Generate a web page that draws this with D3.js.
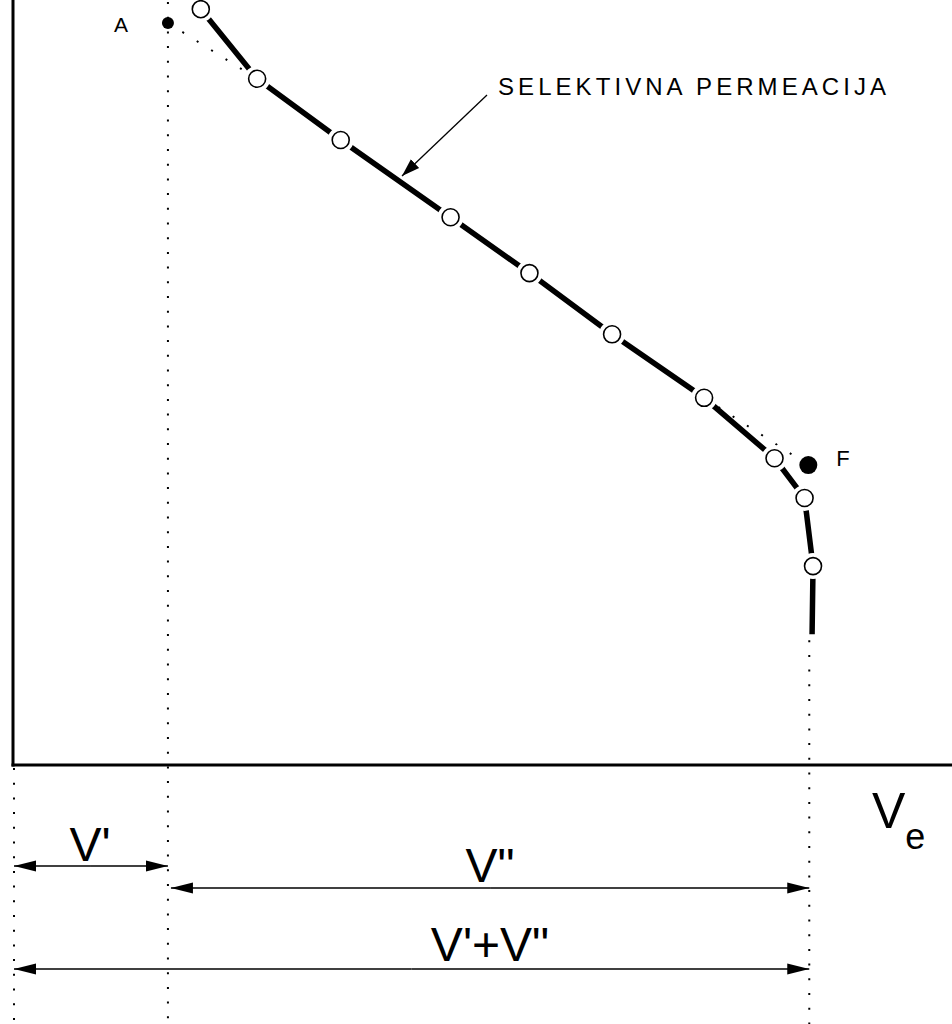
<!DOCTYPE html>
<html>
<head>
<script src="https://d3js.org/d3.v7.min.js"></script>
<style>
  body { margin: 0; background: #fff; }
  text { font-family: "Liberation Sans", Arial, sans-serif; fill: #000; }
</style>
</head>
<body>
<div id="chart"></div>
<script>
// elution curve (x: Ve units, y: concentration units)
var curveX = [2.00, 2.60, 3.49, 4.66, 5.50, 6.38, 7.36, 8.11, 8.43, 8.52];
var curveY = [9.88, 8.97, 8.17, 7.16, 6.43, 5.63, 4.80, 4.01, 3.49, 2.60];
var tailX = [8.51];
var tailY = [1.71];

// extrapolated corner points
var pointNames = ["A", "F"];
var pointX = [1.65, 8.47];
var pointY = [9.70, 3.92];

// volumes marked under the axis
var spanStart = [0, 1.65, 0];
var spanEnd = [1.65, 8.48, 8.48];
var spanLabels = ["V'", "V\"", "V'+V\""];
var curveLabel = "SELEKTIVNA PERMEACIJA";
var axisLabel = "V";
var axisSub = "e";

var W = 952, H = 1024;
var svg = d3.select("#chart").append("svg")
  .attr("width", W).attr("height", H);

var x = d3.scaleLinear().domain([0, 10]).range([13, 952]);
var y = d3.scaleLinear().domain([0, 10]).range([765, 0]);

var defs = svg.append("defs");
defs.append("marker")
  .attr("id", "head")
  .attr("markerUnits", "userSpaceOnUse")
  .attr("markerWidth", 24).attr("markerHeight", 14)
  .attr("viewBox", "0 -7 24 14")
  .attr("refX", 22).attr("refY", 0)
  .attr("orient", "auto")
  .append("path").attr("d", "M0,-5.5L22,0L0,5.5Z").attr("fill", "#000");
defs.append("marker")
  .attr("id", "headSmall")
  .attr("markerUnits", "userSpaceOnUse")
  .attr("markerWidth", 20).attr("markerHeight", 14)
  .attr("viewBox", "0 -7 20 14")
  .attr("refX", 18).attr("refY", 0)
  .attr("orient", "auto")
  .append("path").attr("d", "M0,-6L18,0L0,6Z").attr("fill", "#000");

var dots = "2 12.7";

// vertical dotted guides
svg.append("line")
  .attr("x1", x(0) + 1).attr("x2", x(0) + 1)
  .attr("y1", y(0) + 3).attr("y2", H)
  .attr("stroke", "#000").attr("stroke-width", 2).attr("stroke-dasharray", dots);
svg.append("line")
  .attr("x1", x(pointX[0])).attr("x2", x(pointX[0]))
  .attr("y1", 2).attr("y2", H)
  .attr("stroke", "#000").attr("stroke-width", 2).attr("stroke-dasharray", dots);
svg.append("line")
  .attr("x1", x(spanEnd[2])).attr("x2", x(spanEnd[2]))
  .attr("y1", y(tailY[0]) + 6).attr("y2", H)
  .attr("stroke", "#000").attr("stroke-width", 2).attr("stroke-dasharray", dots);

// dotted tangents to A and F
svg.append("line")
  .attr("x1", x(pointX[0])).attr("y1", y(pointY[0]))
  .attr("x2", x(curveX[1])).attr("y2", y(curveY[1]))
  .attr("stroke", "#000").attr("stroke-width", 2).attr("stroke-dasharray", "2 15");
svg.append("line")
  .attr("x1", x(curveX[6])).attr("y1", y(curveY[6]))
  .attr("x2", x(pointX[1])).attr("y2", y(pointY[1]))
  .attr("stroke", "#000").attr("stroke-width", 2).attr("stroke-dasharray", "2 15");

// frame
svg.append("line")
  .attr("x1", x(0)).attr("x2", x(0)).attr("y1", 0).attr("y2", y(0) + 1.5)
  .attr("stroke", "#000").attr("stroke-width", 3);
svg.append("line")
  .attr("x1", x(0) - 1.5).attr("x2", W).attr("y1", y(0)).attr("y2", y(0))
  .attr("stroke", "#000").attr("stroke-width", 3);

// curve
var pts = curveX.map(function(d, i) { return [d, curveY[i]]; })
  .concat(tailX.map(function(d, i) { return [d, tailY[i]]; }));
var line = d3.line().x(function(d) { return x(d[0]); }).y(function(d) { return y(d[1]); });
svg.append("path")
  .attr("d", line(pts))
  .attr("fill", "none").attr("stroke", "#000").attr("stroke-width", 5.5);

var circ = svg.selectAll(".pt").data(curveX).enter().append("g");
circ.append("circle")
  .attr("cx", function(d) { return x(d); })
  .attr("cy", function(d, i) { return y(curveY[i]); })
  .attr("r", 9).attr("fill", "#fff").attr("stroke", "#fff").attr("stroke-width", 8);
circ.append("circle")
  .attr("cx", function(d) { return x(d); })
  .attr("cy", function(d, i) { return y(curveY[i]); })
  .attr("r", 8.5).attr("fill", "#fff").attr("stroke", "#000").attr("stroke-width", 1.6);

// A and F
svg.selectAll(".corner").data(pointX).enter().append("circle")
  .attr("cx", function(d) { return x(d); })
  .attr("cy", function(d, i) { return y(pointY[i]); })
  .attr("r", function(d, i) { return i == 0 ? 6 : 9; })
  .attr("fill", "#000");
svg.append("text")
  .attr("x", x(pointX[0]) - 47).attr("y", y(pointY[0]) + 9)
  .attr("text-anchor", "middle").attr("font-size", 21)
  .text(pointNames[0]);
svg.append("text")
  .attr("x", x(pointX[1]) + 28).attr("y", y(pointY[1]) + 1)
  .attr("font-size", 22)
  .text(pointNames[1]);

// curve label with arrow
svg.append("text")
  .attr("x", 498).attr("y", 95)
  .attr("font-size", 24)
  .attr("textLength", 388).attr("lengthAdjust", "spacing")
  .text(curveLabel);
svg.append("line")
  .attr("x1", 487).attr("y1", 95).attr("x2", 402).attr("y2", 176)
  .attr("stroke", "#000").attr("stroke-width", 1.3)
  .attr("marker-end", "url(#headSmall)");

// axis label
var ve = svg.append("text").attr("x", 872).attr("y", 828).attr("font-size", 50);
ve.append("tspan").text(axisLabel);
ve.append("tspan").attr("dy", 21).attr("font-size", 36).text(axisSub);

// span arrows
var spanY = [866, 888, 969];
var labelY = [861, 882, 961];
var labelCx = [90, 490, 490];
spanStart.forEach(function(s, i) {
  var a = x(s) + 1, b = x(spanEnd[i]);
  if (i == 1) a = x(s) + 3;
  var g = svg.append("g");
  g.append("line")
    .attr("x1", (a + b) / 2).attr("x2", b).attr("y1", spanY[i]).attr("y2", spanY[i])
    .attr("stroke", "#000").attr("stroke-width", 1.5)
    .attr("marker-end", "url(#head)");
  g.append("line")
    .attr("x1", (a + b) / 2).attr("x2", a).attr("y1", spanY[i]).attr("y2", spanY[i])
    .attr("stroke", "#000").attr("stroke-width", 1.5)
    .attr("marker-end", "url(#head)");
  svg.append("text")
    .attr("x", labelCx[i]).attr("y", labelY[i])
    .attr("text-anchor", "middle").attr("font-size", 48)
    .text(spanLabels[i]);
});
</script>
</body>
</html>
